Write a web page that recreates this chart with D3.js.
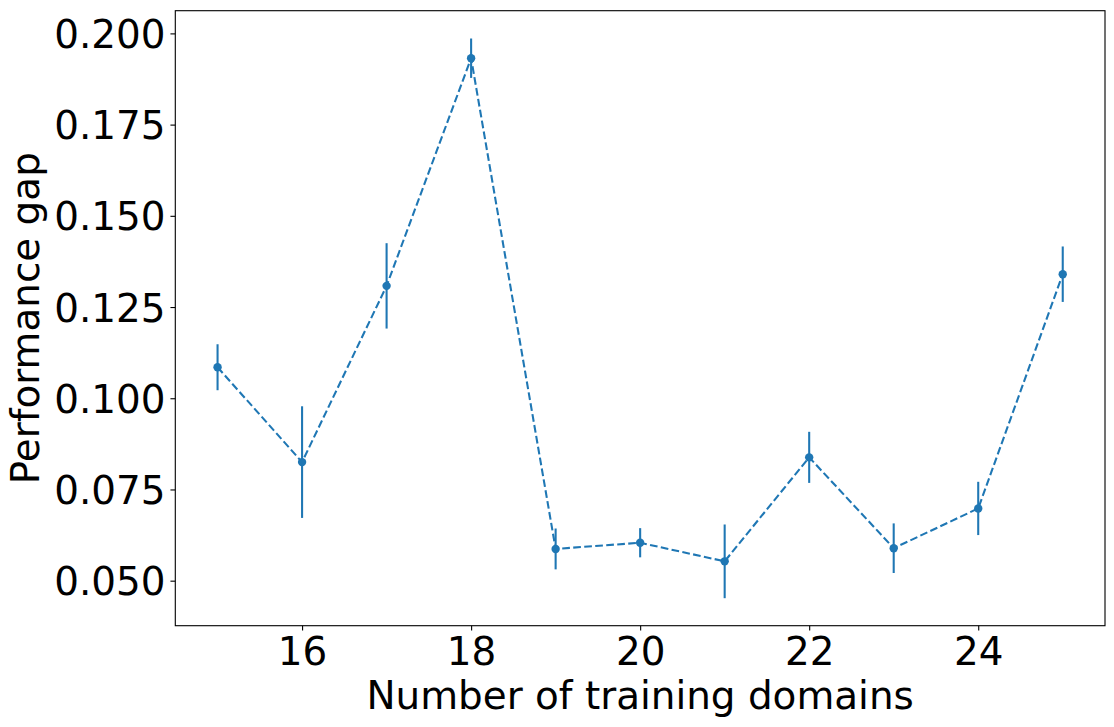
<!DOCTYPE html>
<html>
<head>
<meta charset="utf-8">
<script src="https://cdn.jsdelivr.net/npm/d3@7"></script>
<style>
  html, body { margin: 0; padding: 0; background: #fff; }
  svg { display: block; }
  text { font-family: "DejaVu Sans", sans-serif; fill: #000; }
</style>
</head>
<body>
<svg id="chart" width="1114" height="727"></svg>
<script>
// Data
const domains = [15, 16, 17, 18, 19, 20, 21, 22, 23, 24, 25];
const gap     = [0.1085, 0.0825, 0.1308, 0.1932, 0.0587, 0.0604, 0.0553, 0.0838, 0.0589, 0.0698, 0.1340];
const gapErr  = [0.0063, 0.0153, 0.0117, 0.0054, 0.0056, 0.0040, 0.0101, 0.0070, 0.0068, 0.0073, 0.0076];
const xTicks  = [16, 18, 20, 22, 24];
const yTicks  = [0.050, 0.075, 0.100, 0.125, 0.150, 0.175, 0.200];

const xLabel = "Number of training domains";
const yLabel = "Performance gap";

const color = "#1f77b4";
const fontPx = 38.9;

const plotL = 175.3, plotR = 1105, plotT = 10.7, plotB = 625.7;

const svg = d3.select("#chart");

const x = d3.scaleLinear().domain([14.5, 25.5]).range([plotL, plotR]);
const y = d3.scaleLinear().domain([0.03766, 0.20622]).range([plotB, plotT]);

const data = domains.map((d, i) => ({ x: d, y: gap[i], e: gapErr[i] }));

// Dashed line
svg.append("path")
  .datum(data)
  .attr("fill", "none")
  .attr("stroke", color)
  .attr("stroke-width", 2.08)
  .attr("stroke-dasharray", "7.7,3.33")
  .attr("d", d3.line().x(d => x(d.x)).y(d => y(d.y)));

// Error bars
svg.append("g").selectAll("line")
  .data(data).join("line")
  .attr("x1", d => x(d.x)).attr("x2", d => x(d.x))
  .attr("y1", d => y(d.y - d.e)).attr("y2", d => y(d.y + d.e))
  .attr("stroke", color).attr("stroke-width", 2.08);

// Markers
svg.append("g").selectAll("circle")
  .data(data).join("circle")
  .attr("cx", d => x(d.x)).attr("cy", d => y(d.y))
  .attr("r", 4.2).attr("fill", color);

// Axes
const xAxis = d3.axisBottom(x).tickValues(xTicks).tickFormat(d3.format("d"))
  .tickSize(4.86).tickPadding(4.86);
const yAxis = d3.axisLeft(y).tickValues(yTicks).tickFormat(d3.format(".3f"))
  .tickSize(4.86).tickPadding(4.86);

const gx = svg.append("g").attr("transform", `translate(0,${plotB})`).call(xAxis);
const gy = svg.append("g").attr("transform", `translate(${plotL},0)`).call(yAxis);

[gx, gy].forEach(g => {
  g.select(".domain").remove();
  g.selectAll(".tick line").attr("stroke", "#000").attr("stroke-width", 1.11);
  g.selectAll(".tick text")
    .style("font-family", "'DejaVu Sans', sans-serif")
    .style("font-size", fontPx + "px")
    .attr("fill", "#000");
});
gx.selectAll(".tick text").attr("dy", null).attr("y", 39.3);
gy.selectAll(".tick text").attr("dy", "0.36em");

// Frame
svg.append("rect")
  .attr("x", plotL).attr("y", plotT)
  .attr("width", plotR - plotL).attr("height", plotB - plotT)
  .attr("fill", "none").attr("stroke", "#000").attr("stroke-width", 1.11);

// Axis labels
svg.append("text")
  .attr("x", (plotL + plotR) / 2).attr("y", 709.3)
  .attr("text-anchor", "middle")
  .style("font-size", fontPx + "px")
  .text(xLabel);

svg.append("text")
  .attr("transform", `translate(39.3,${(plotT + plotB) / 2}) rotate(-90)`)
  .attr("text-anchor", "middle")
  .style("font-size", fontPx + "px")
  .text(yLabel);
</script>
</body>
</html>
